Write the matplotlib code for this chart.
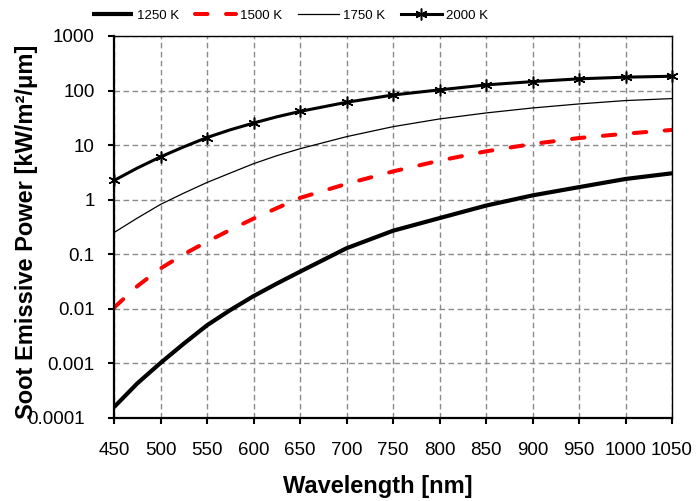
import matplotlib
matplotlib.use("Agg")
import matplotlib.pyplot as plt
from matplotlib.ticker import FixedLocator, NullLocator
from matplotlib.transforms import ScaledTranslation

plt.rcParams['font.family'] = ['Liberation Sans', 'DejaVu Sans']

wavelength = [450, 475, 500, 525, 550, 575, 600, 625, 650, 700, 750, 800, 850, 900, 950, 1000, 1050]
p1250 = [0.000158, 0.00043, 0.00102, 0.0023, 0.0050, 0.0095, 0.0171, 0.029, 0.048,
         0.129, 0.27, 0.46, 0.78, 1.2, 1.7, 2.4, 3.05]
p1500 = [0.0105, 0.026, 0.055, 0.1, 0.17, 0.28, 0.45, 0.7, 1.08,
         1.95, 3.3, 5.2, 7.7, 10.5, 13.5, 16.2, 19.0]
p1750 = [0.25, 0.46, 0.82, 1.32, 2.07, 3.08, 4.57, 6.4, 8.6,
         14.3, 21.8, 30.2, 38.9, 48.0, 56.9, 65.6, 71.3]
p2000 = [2.25, 3.8, 6.1, 9.3, 13.8, 19.1, 25.4, 33.0, 41.5,
         61.0, 83.0, 103.0, 127.0, 146.0, 164.0, 176.0, 183.0]

series_labels = ['1250 K', '1500 K', '1750 K', '2000 K']
xtick_vals = [450, 500, 550, 600, 650, 700, 750, 800, 850, 900, 950, 1000, 1050]
ytick_vals = [0.0001, 0.001, 0.01, 0.1, 1, 10, 100, 1000]
ytick_labels = ['0.0001', '0.001', '0.01', '0.1', '1', '10', '100', '1000']

marker_idx = [i for i, w in enumerate(wavelength) if w in xtick_vals]

fig = plt.figure(figsize=(6.96, 5.01), dpi=100)
ax = fig.add_axes([114/696, 1-418/501, (672-114)/696, (418-36)/501])

l1, = ax.plot(wavelength, p1250, color='black', lw=3.0, solid_capstyle='butt', label=series_labels[0])
l2, = ax.plot(wavelength, p1500, color='#ff0000', lw=2.9, dashes=(3.1, 4.6), dash_capstyle='round',
              label=series_labels[1])
l3, = ax.plot(wavelength, p1750, color='black', lw=0.9, label=series_labels[2])
l4, = ax.plot(wavelength, p2000, color='black', lw=2.2, marker=(6, 2, 0), markersize=8.5,
              markeredgewidth=1.1, markevery=marker_idx, label=series_labels[3], clip_on=False)

ax.set_yscale('log')
ax.set_xlim(450, 1050)
ax.set_ylim(0.0001, 1000)
ax.set_xticks(xtick_vals)
ax.yaxis.set_major_locator(FixedLocator(ytick_vals))
ax.set_yticklabels(ytick_labels)
ax.yaxis.set_minor_locator(NullLocator())

ax.grid(True, which='major', color='#8a8a8a', lw=1.0, linestyle=(0, (4, 2.5)))
ax.set_axisbelow(True)

for s in ['left', 'bottom']:
    ax.spines[s].set_linewidth(1.6)
for s in ['top', 'right']:
    ax.spines[s].set_linewidth(1.0)

ax.tick_params(axis='both', direction='out', length=4, width=1.5, labelsize=13.5)
ax.tick_params(axis='x', pad=13)
ax.tick_params(axis='y', pad=10)

# Excel-like offset of the lowest y label
for lab in ax.get_yticklabels():
    if lab.get_text() == '0.0001':
        lab.set_transform(lab.get_transform() + ScaledTranslation(-0.10, 0, fig.dpi_scale_trans))

ax.set_xlabel('Wavelength [nm]', fontsize=17, fontweight='bold')
ax.xaxis.set_label_coords((377.5-114)/558, -0.148)
ax.set_ylabel('Soot Emissive Power [kW/m²/μm]', fontsize=17, fontweight='bold')
ax.yaxis.set_label_coords(-0.136, 0.487)

fig.legend(handles=[l1, l2, l3, l4], loc='center', bbox_to_anchor=(290/696, 1-16/501),
           ncol=4, frameon=False, fontsize=9.5, handlelength=3.1, handletextpad=0.3,
           columnspacing=1.2)

fig.savefig('out.png', dpi=100)
